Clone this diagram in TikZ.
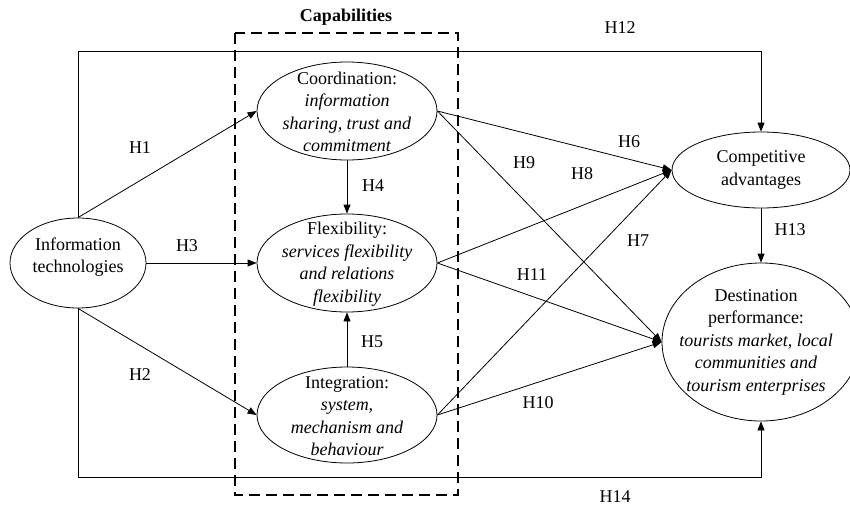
\documentclass[tikz,border=0pt]{standalone}
\usepackage{fontspec}
\setmainfont{Liberation Serif}
\usetikzlibrary{shapes.geometric,arrows.meta}
\begin{document}
\begin{tikzpicture}[x=1pt,y=-1pt,
  every node/.style={font=\fontsize{18}{22.5}\selectfont},
  oval/.style={ellipse,draw,line width=0.8pt,inner sep=0pt},
  txt/.style={align=center,inner sep=0pt},
  hlab/.style={inner sep=0pt},
  arr/.style={line width=0.8pt,-{Triangle[length=9pt,width=7pt]}},
  plain/.style={line width=0.8pt},
  capbox/.style={line width=1.8pt,dash pattern=on 11pt off 6pt}]
\useasboundingbox (0,0) rectangle (850,506);
% capability box
\draw[capbox] (235,33) rectangle (458,495);
\node[font=\fontsize{18}{22}\selectfont\bfseries] (captitle) at (346,17) {Capabilities};
% ellipses
\node[oval,minimum width=136pt,minimum height=90pt] (it) at (78,263) {};
\node[txt] (ittext) at (78,257) {Information\\technologies};
\node[oval,minimum width=180pt,minimum height=98pt] (coord) at (347,111) {};
\node[txt] (coordtext) at (347,112) {Coordination:\\\itshape information\\\itshape sharing, trust and\\\itshape commitment};
\node[oval,minimum width=180pt,minimum height=98pt] (flex) at (347,263) {};
\node[txt] (flextext) at (347,264) {Flexibility:\\\itshape services flexibility\\\itshape and relations\\\itshape flexibility};
\node[oval,minimum width=180pt,minimum height=96pt] (integ) at (347,415) {};
\node[txt] (integtext) at (347,416) {Integration:\\\itshape system,\\\itshape mechanism and\\\itshape behaviour};
\node[oval,minimum width=178pt,minimum height=76pt] (comp) at (761,170) {};
\node[txt] (comptext) at (761,170) {Competitive\\advantages};
\node[oval,minimum width=198pt,minimum height=158pt] (dest) at (761,342) {};
\node[txt] (desttext) at (756,342) {Destination\\performance:\\\itshape tourists market, local\\\itshape communities and\\\itshape tourism enterprises};
% coordinates for routed lines
\coordinate (toprow) at (0,51);
\coordinate (botrow) at (0,477);
% connectors
\draw[arr] (it.north) -- (coord.west);
\draw[arr] (it.east) -- (flex.west);
\draw[arr] (it.south) -- (integ.west);
\draw[arr] (coord.south) -- (flex.north);
\draw[arr] (integ.north) -- (flex.south);
\draw[arr] (coord.east) -- (comp.west);
\draw[arr] (coord.east) -- (dest.west);
\draw[arr] (flex.east) -- (comp.west);
\draw[arr] (flex.east) -- (dest.west);
\draw[arr] (integ.east) -- (comp.west);
\draw[arr] (integ.east) -- (dest.west);
\draw[arr] (comp.south) -- (dest.north);
\draw[arr] (it.north) -- (it.north |- toprow) -| (comp.north);
\draw[arr] (it.south) -- (it.south |- botrow) -| (dest.south);
% labels
\node[hlab] (h1) at (140,148) {H1};
\node[hlab] (h2) at (140,375) {H2};
\node[hlab] (h3) at (187,246) {H3};
\node[hlab] (h4) at (373,186) {H4};
\node[hlab] (h5) at (372,342) {H5};
\node[hlab] (h6) at (629,142) {H6};
\node[hlab] (h7) at (638,241) {H7};
\node[hlab] (h8) at (582,174) {H8};
\node[hlab] (h9) at (524,163) {H9};
\node[hlab] (h10) at (538,403) {H10};
\node[hlab] (h11) at (532,275) {H11};
\node[hlab] (h12) at (620,28) {H12};
\node[hlab] (h13) at (790,230) {H13};
\node[hlab] (h14) at (615,497) {H14};
\end{tikzpicture}
\end{document}
